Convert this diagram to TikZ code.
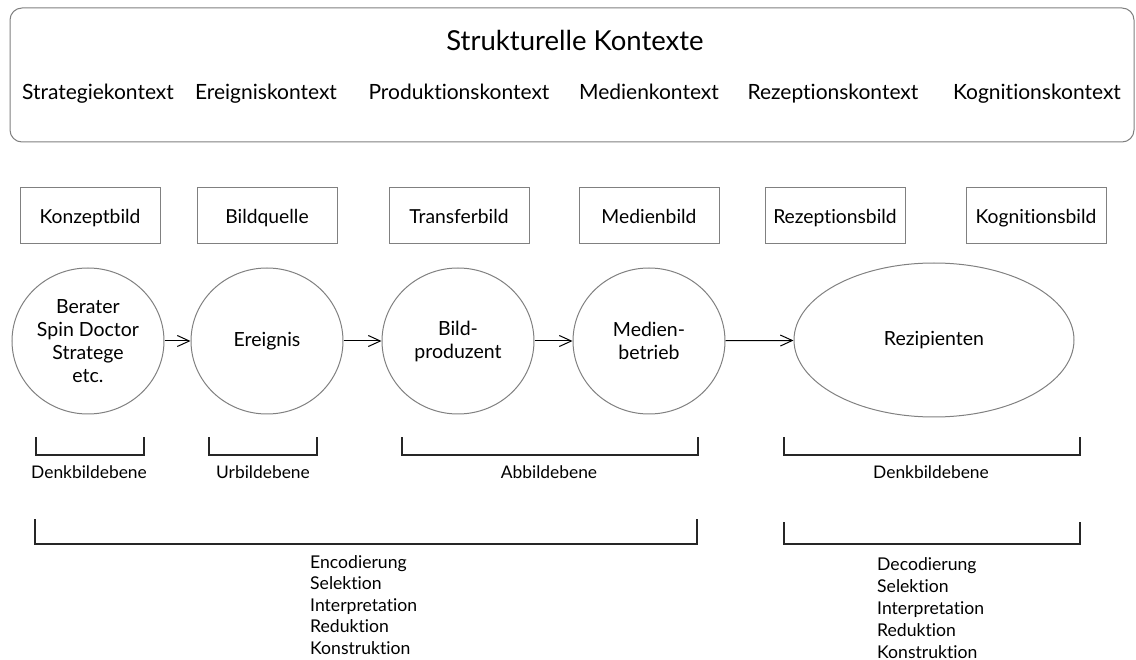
\documentclass[tikz,border=0pt]{standalone}
\usepackage{fontspec}
\setmainfont{Lato}[Ligatures={NoCommon,NoRequired}]
\usetikzlibrary{arrows.meta, positioning, shapes.geometric}
\definecolor{rahmen}{gray}{0.5}
\tikzstyle{arrow} = [line width=1pt,-{Straight Barb[length=12pt,width=11pt,line width=1pt]}]
\tikzstyle{bildbox} = [rectangle, draw=rahmen, line width=1pt, minimum width=140pt, minimum height=56pt, text height=15pt, text depth=0pt, text centered, font=\fontsize{19.3}{22}\selectfont]
\tikzset{
	akteur/.style = {ellipse, draw=rahmen, line width=1pt,
		minimum width=152pt, minimum height=146pt, inner sep=0pt,
		align=center, font=\fontsize{19.5}{23}\selectfont},
	kontext/.style = {anchor=base, font=\fontsize{21}{24}\selectfont},
	ebene/.style = {anchor=base, font=\fontsize{17.4}{20}\selectfont},
	liste/.style = {anchor=north west, inner sep=0pt, align=left},
	klammer/.style = {line width=1.5pt, black!85}
}

\begin{document}
\begin{tikzpicture}[x=1pt, y=-1pt]
\useasboundingbox (0,0) rectangle (1136,660);
%----------------------------------------------------------------------------
% Structural contexts
\node (kontexte) [draw=rahmen, line width=1pt, rounded corners=12pt, minimum width=1124pt, minimum height=134pt] at (572,75) {};
\node (titel) [anchor=base, font=\fontsize{27.5}{30}\selectfont] at (575,51) {Strukturelle Kontexte};

\node (strategie) [kontext] at (98,100) {Strategiekontext};
\node (ereigniskt) [kontext] at (266,100) {Ereigniskontext};
\node (produktion) [kontext] at (459,100) {Produktionskontext};
\node (medienkt) [kontext] at (649,100) {Medienkontext};
\node (rezeption) [kontext] at (833,100) {Rezeptionskontext};
\node (kognition) [kontext] at (1037,100) {Kognitionskontext};

%----------------------------------------------------------------------------
% Image types
\node (konzeptbild) [bildbox] at (90,216) {Konzeptbild};
\node (bildquelle) [bildbox] at (267,216) {Bildquelle};
\node (transferbild) [bildbox] at (459,216) {Transferbild};
\node (medienbild) [bildbox] at (649,216) {Medienbild};
\node (rezeptionsbild) [bildbox] at (835,216) {Rezeptionsbild};
\node (kognitionsbild) [bildbox] at (1036,216) {Kognitionsbild};

%----------------------------------------------------------------------------
% Actors
\node (berater) [akteur] at (88,341) {Berater\\Spin Doctor\\Stratege\\etc.};
\node (ereignis) [akteur] at (267,341) {Ereignis};
\node (bildprod) [akteur] at (458,341) {Bild-\\produzent};
\node (medienbetr) [akteur] at (649,341) {Medien-\\betrieb};
\node (rezipienten) [akteur, minimum width=280pt, minimum height=154pt] at (934,340) {Rezipienten};

\draw [arrow] (berater) -- (ereignis);
\draw [arrow] (ereignis) -- (bildprod);
\draw [arrow] (bildprod) -- (medienbetr);
\draw [arrow] (medienbetr) -- (rezipienten);

%----------------------------------------------------------------------------
% Levels
\draw [klammer] (36,437) |- (144,455) -- (144,437);
\draw [klammer] (209,437) |- (317,455) -- (317,437);
\draw [klammer] (402,437) |- (698,455) -- (698,437);
\draw [klammer] (784,437) |- (1080,455) -- (1080,437);

\node (denkbild1) [ebene] at (89,478) {Denkbildebene};
\node (urbild) [ebene] at (263,478) {Urbildebene};
\node (abbild) [ebene] at (549,478) {Abbildebene};
\node (denkbild2) [ebene] at (931,478) {Denkbildebene};

\draw [klammer] (35,519) |- (697,544) -- (697,519);
\draw [klammer] (784,522) |- (1080,544) -- (1080,522);

\node (encodierung) [liste, font=\fontsize{17.6}{21.5}\selectfont] at (310,555) {Encodierung\\Selektion\\Interpretation\\Reduktion\\Konstruktion};
\node (decodierung) [liste, font=\fontsize{17.6}{22}\selectfont] at (877,557) {Decodierung\\Selektion\\Interpretation\\Reduktion\\Konstruktion};
\end{tikzpicture}
\end{document}
